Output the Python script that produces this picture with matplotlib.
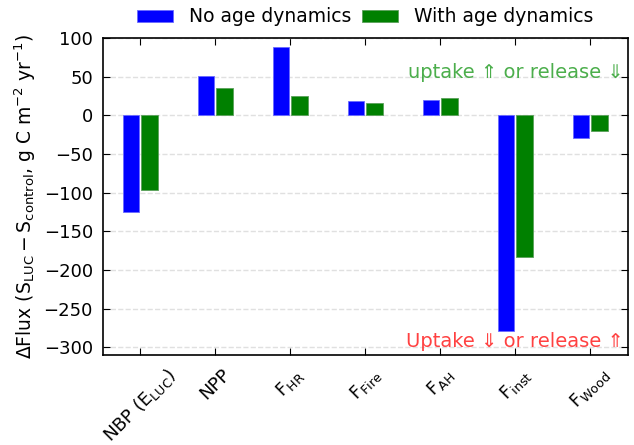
import numpy as np
import matplotlib
matplotlib.use('Agg')
import matplotlib.pyplot as plt

# flux names and values (g C m-2 yr-1)
labels = ['NBP ($E_{LUC}$)', 'NPP', '$F_{HR}$', '$F_{Fire}$', '$F_{AH}$', '$F_{inst}$', '$F_{Wood}$']
no_age = [-125, 51, 88, 19, 20, -279, -30]
with_age = [-97, 35, 25, 16, 22, -183, -20]

plt.rcParams['font.family'] = 'DejaVu Sans'
plt.rcParams['mathtext.default'] = 'regular'

fig = plt.figure(figsize=(6.34, 4.45), dpi=100)
ax = fig.add_axes([0.162, 0.202, 0.828, 0.713])

x = np.arange(len(labels))
w = 0.22
ax.bar(x - 0.125, no_age, w, color='blue', edgecolor='#6a6aff', linewidth=0.6, label='No age dynamics', zorder=3)
ax.bar(x + 0.125, with_age, w, color='green', edgecolor='#5aa05a', linewidth=0.6, label='With age dynamics', zorder=3)

ax.set_xlim(-0.5, 6.5)
ax.set_ylim(-310, 100)
ax.set_yticks(np.arange(-300, 101, 50))
ax.set_xticks(x)
ax.set_xticklabels(labels, rotation=45, fontsize=13)
ax.tick_params(axis='y', labelsize=13, pad=7)
ax.tick_params(axis='x', pad=7)
ax.tick_params(direction='in', top=True, right=True, length=5)
ax.yaxis.grid(True, linestyle='--', color='#e0e0e0', linewidth=1, zorder=0)
for s in ax.spines.values():
    s.set_linewidth(1.2)

ax.set_ylabel(r'$\Delta$Flux ($S_{LUC}-S_{control}$, g C m$^{-2}$ yr$^{-1}$)', fontsize=13.5, labelpad=4)

ax.text(6.45, 55, 'uptake \u21d1 or release \u21d3', color='#2ca02c', fontsize=14, ha='right', va='center', alpha=0.85)
ax.text(6.45, -293, 'Uptake \u21d3 or release \u21d1', color='#ff2020', fontsize=14, ha='right', va='center', alpha=0.85)

ax.legend(loc='lower center', bbox_to_anchor=(0.5, 1.01), ncol=2, frameon=False,
          fontsize=13.5, handlelength=1.9, handleheight=0.6, columnspacing=0.6,
          handletextpad=0.85, borderaxespad=0.05)

fig.savefig('out.png', dpi=100)
